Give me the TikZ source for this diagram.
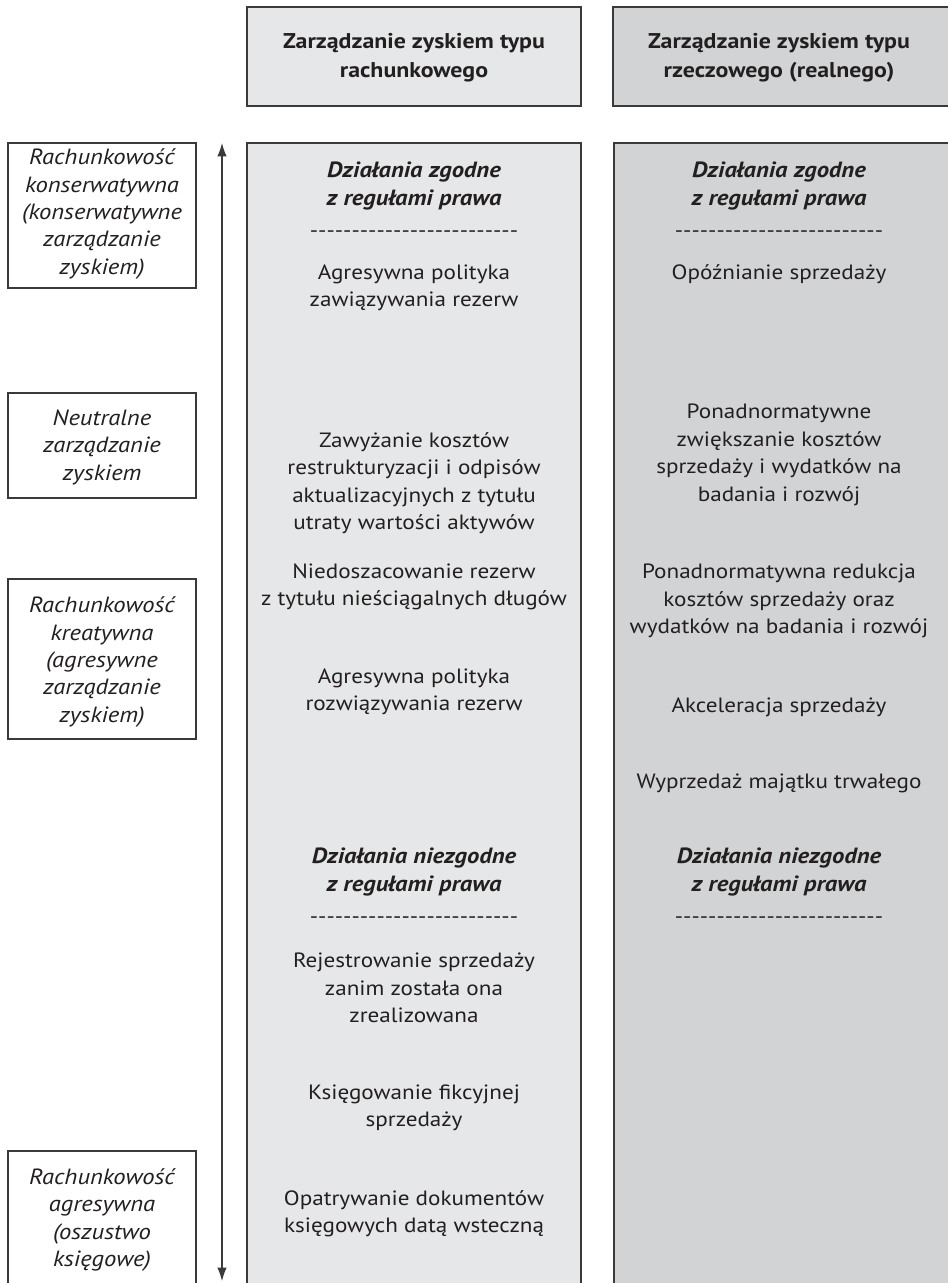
\documentclass[tikz,border=0pt]{standalone}
\usepackage{fontspec}
\setmainfont{PT Sans}[FakeStretch=1.12]
\usetikzlibrary{arrows.meta}
\definecolor{lineC}{HTML}{3A3A3A}
\definecolor{textC}{HTML}{231F20}
\definecolor{fillA}{HTML}{E6E7E8}
\definecolor{fillB}{HTML}{D1D3D4}
\newcommand\dashrow{\foreach\k in {1,...,25}{-\kern0pt}}
\tikzset{
  boxA/.style={draw=lineC,fill=fillA,line width=0.8pt},
  boxB/.style={draw=lineC,fill=fillB,line width=0.8pt},
  boxW/.style={draw=lineC,fill=white,line width=0.8pt},
  txt/.style={text=textC,align=center,inner sep=0pt,font=\fontsize{15.5}{20.6}\selectfont},
  head/.style={txt,font=\fontsize{16}{21.5}\selectfont\bfseries},
  rule/.style={txt,font=\fontsize{16.5}{20.6}\selectfont\bfseries\itshape},
  side/.style={txt,font=\fontsize{16.5}{20.6}\selectfont\itshape}
}
\begin{document}
\begin{tikzpicture}[x=0.75pt,y=-0.75pt]
  \useasboundingbox (0,0) rectangle (948,1283);
  \clip (0,0) rectangle (948,1283);
  % boxes
  \draw[boxA] (247,7) rectangle (581,106);
  \draw[boxB] (613,7) rectangle (990,106);
  \draw[boxA] (247,143) rectangle (581,1320);
  \draw[boxB] (614,143) rectangle (990,1320);
  \draw[boxW] (8,143) rectangle (196,288);
  \draw[boxW] (8,393) rectangle (196,498);
  \draw[boxW] (8,579) rectangle (196,739);
  \draw[boxW] (8,1151) rectangle (196,1320);
  % arrow
  \coordinate (up) at (222,143);
  \coordinate (down) at (222,1281);
  \draw[lineC,line width=0.8pt,{Latex[length=10pt,width=7pt]}-{Latex[length=10pt,width=7pt]}] (up) -- (down);
  % headers
  \node[head] (hA) at (414,58) {Zarządzanie zyskiem typu\\rachunkowego};
  \node[head] (hB) at (779,58) {Zarządzanie zyskiem typu\\rzeczowego (realnego)};
  % side labels
  \node[side] (s1) at (102,214) {Rachunkowość\\konserwatywna\\(konserwatywne\\zarządzanie\\zyskiem)};
  \node[side] (s2) at (102,447) {Neutralne\\zarządzanie\\zyskiem};
  \node[side] (s3) at (102,662) {Rachunkowość\\kreatywna\\(agresywne\\zarządzanie\\zyskiem)};
  \node[side] (s4) at (102,1220) {Rachunkowość\\agresywna\\(oszustwo\\księgowe)};
  % column A
  \node[rule] (a1) at (414,186) {Działania zgodne\\z regułami prawa};
  \node[txt] (a2) at (414,234) {\dashrow};
  \node[txt] (a3) at (414,288) {Agresywna polityka\\zawiązywania rezerw};
  \node[txt] (a4) at (414,483) {Zawyżanie kosztów\\restrukturyzacji i odpisów\\aktualizacyjnych z tytułu\\utraty wartości aktywów};
  \node[txt] (a5) at (414,587) {Niedoszacowanie rezerw\\z tytułu nieściągalnych długów};
  \node[txt] (a6) at (414,692) {Agresywna polityka\\rozwiązywania rezerw};
  \node[rule] (a7) at (414,872) {Działania niezgodne\\z regułami prawa};
  \node[txt] (a8) at (414,920) {\dashrow};
  \node[txt] (a9) at (414,988) {Rejestrowanie sprzedaży\\zanim została ona\\zrealizowana};
  \node[txt] (a10) at (414,1108) {Księgowanie fikcyjnej\\sprzedaży};
  \node[txt] (a11) at (414,1214) {Opatrywanie dokumentów\\księgowych datą wsteczną};
  % column B
  \node[rule] (b1) at (779,186) {Działania zgodne\\z regułami prawa};
  \node[txt] (b2) at (779,234) {\dashrow};
  \node[txt] (b3) at (779,274) {Opóźnianie sprzedaży};
  \node[txt] (b4) at (779,455) {Ponadnormatywne\\zwiększanie kosztów\\sprzedaży i wydatków na\\badania i rozwój};
  \node[txt] (b5) at (779,601) {Ponadnormatywna redukcja\\kosztów sprzedaży oraz\\wydatków na badania i rozwój};
  \node[txt] (b6) at (779,707) {Akceleracja sprzedaży};
  \node[txt] (b7) at (779,783) {Wyprzedaż majątku trwałego};
  \node[rule] (b8) at (779,872) {Działania niezgodne\\z regułami prawa};
  \node[txt] (b9) at (779,920) {\dashrow};
\end{tikzpicture}
\end{document}
